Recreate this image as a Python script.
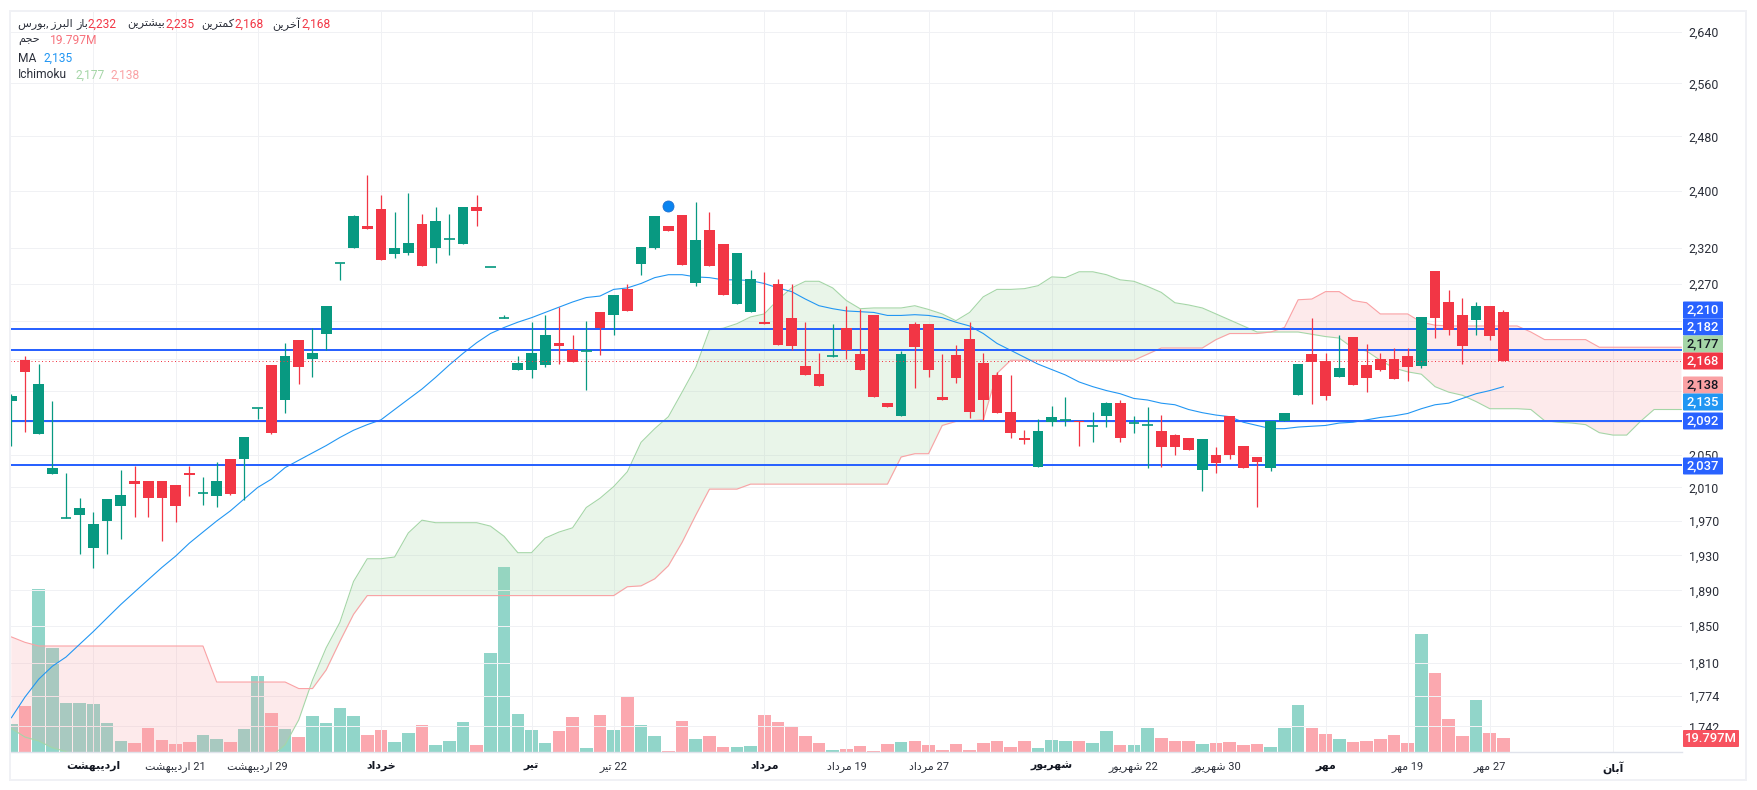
import numpy as np, pandas as pd, matplotlib
matplotlib.use("Agg")
import matplotlib.pyplot as plt, seaborn as sns
from matplotlib.patches import Rectangle, FancyBboxPatch
from matplotlib.ticker import FixedLocator, NullLocator, NullFormatter
from matplotlib.transforms import ScaledTranslation

opens = [2117,2169,2075,2026,1973,1977,1938,1970,1988,2018,2018,2018,2013,2027,2003,2000,2044,2044,2108,2163,2118,2196,2170,2204,2299,2320,2350,2375,2312,2313,2354,2320,2333,2326,2378,2294,2224,2156,2156,2163,2192,2182,2181,2232,2229,2263,2298,2320,2350,2366,2272,2345,2326,2243,2233,2219,2270,2225,2161,2151,2174,2211,2177,2228,2114,2098,2216,2217,2122,2176,2197,2165,2150,2103,2071,2035,2090,2093,2092,2085,2098,2114,2089,2087,2079,2074,2070,2031,2050,2098,2061,2047,2033,2092,2125,2177,2168,2147,2199,2163,2170,2171,2174,2162,2288,2246,2229,2222,2240,2232]
highs = [2126,2174,2164,2117,2027,1997,1981,1996,2031,2036,2018,2018,2013,2036,2023,2041,2045,2072,2108,2163,2192,2196,2211,2241,2299,2366,2424,2395,2371,2397,2368,2378,2368,2378,2395,2294,2228,2174,2219,2228,2239,2202,2220,2232,2256,2270,2321,2365,2350,2366,2385,2370,2326,2313,2290,2287,2277,2270,2219,2179,2217,2240,2236,2228,2114,2181,2219,2217,2177,2189,2219,2179,2154,2150,2080,2094,2111,2122,2092,2103,2116,2118,2098,2109,2099,2075,2070,2069,2059,2098,2061,2047,2092,2102,2164,2225,2178,2202,2199,2190,2179,2185,2185,2226,2288,2262,2252,2246,2241,2235]
lows = [2060,2078,2075,2026,1973,1932,1915,1932,1949,1975,1975,1947,1969,2000,1989,1987,2001,1995,2094,2075,2102,2138,2148,2182,2276,2320,2347,2303,2306,2310,2295,2299,2310,2326,2351,2294,2224,2156,2146,2160,2164,2167,2131,2176,2202,2234,2283,2318,2343,2296,2268,2295,2256,2243,2233,2216,2189,2183,2150,2136,2173,2170,2156,2122,2109,2098,2133,2147,2118,2140,2095,2093,2102,2071,2063,2035,2085,2085,2060,2065,2084,2065,2076,2033,2035,2049,2055,2006,2028,2044,2033,1987,2030,2092,2125,2113,2118,2147,2137,2128,2155,2145,2142,2159,2198,2202,2164,2202,2196,2168]
closes = [2123,2154,2138,2033,1973,1986,1966,1996,2001,2014,1997,1997,1988,2025,2003,2018,2002,2072,2108,2076,2174,2160,2178,2241,2299,2365,2347,2303,2320,2327,2295,2357,2333,2377,2372,2294,2225,2165,2178,2202,2187,2167,2181,2211,2256,2234,2321,2365,2343,2296,2331,2295,2256,2313,2277,2216,2189,2187,2150,2136,2174,2183,2156,2122,2109,2177,2186,2156,2118,2146,2103,2118,2102,2076,2068,2079,2097,2093,2090,2085,2114,2070,2089,2087,2059,2059,2055,2069,2040,2050,2033,2041,2092,2102,2164,2167,2123,2159,2137,2146,2157,2145,2160,2226,2224,2209,2187,2240,2201,2168]
volume_m = [39.6,65,230.5,147,69.3,69.3,67.9,41,15.6,12.7,33.9,17,11.3,14.1,24,18.4,14.1,32.5,107.5,55,32.5,21.2,51,41,62,51,24,31,14.1,26.9,38.2,9.9,15.6,42.4,9.9,140,261.6,53.7,31,12.7,29.7,49.5,5.7,52.3,31.1,79.2,38.2,22.6,1.4,43.8,18.4,22.6,7.1,7.1,8.5,52.3,42.4,36.8,22.6,12.7,2.8,4.2,8.5,1.4,11.3,14.1,15.6,9.9,2.8,11.3,2.8,12.7,15.6,7.1,15.6,5.7,17,15.6,15.6,12.7,29.7,9.9,9.9,33.9,19.8,15.6,15.6,11.3,12.7,14.1,9.9,11.3,7.1,33.9,66.5,33.9,25.5,18.4,14.1,15.6,18.4,24,12.7,166.9,111.7,46.7,22.6,73.5,26.9,19.797]
ma_line = [1751,1773,1792,1806,1816,1830,1844,1859,1874,1888,1902,1916,1929,1944,1957,1970,1982,1996,2010,2020,2034,2043,2052,2061,2071,2080,2087,2093,2106,2119,2132,2147,2163,2178,2192,2204,2212,2219,2225,2232,2239,2246,2252,2254,2263,2265,2271,2279,2283,2283,2280,2279,2276,2276,2275,2271,2265,2260,2250,2241,2237,2234,2233,2232,2228,2228,2229,2228,2225,2219,2214,2204,2191,2182,2173,2164,2157,2150,2141,2135,2130,2126,2120,2118,2114,2112,2106,2102,2099,2097,2090,2086,2082,2082,2084,2085,2086,2089,2090,2093,2096,2098,2101,2107,2112,2114,2120,2126,2130,2135]
span_a = [1740,1731,1727,1720,1716,1707,1703,1700,1698,1696,1695,1694,1694,1695,1696,1698,1700,1702,1705,1711,1723,1749,1791,1826,1854,1900,1926,1926,1928,1956,1971,1968,1968,1968,1968,1964,1952,1933,1933,1950,1957,1962,1986,1997,2011,2029,2065,2082,2097,2128,2160,2209,2211,2217,2226,2230,2249,2265,2274,2274,2265,2248,2237,2238,2238,2238,2241,2236,2230,2221,2232,2253,2263,2263,2264,2268,2280,2279,2287,2287,2283,2276,2274,2267,2259,2245,2242,2238,2230,2222,2214,2206,2206,2206,2206,2203,2200,2198,2185,2181,2169,2159,2154,2151,2135,2128,2124,2116,2107,2107,2107,2106,2092,2090,2089,2087,2077,2074,2074,2091,2106,2106,2106]
span_b = [1838,1832,1828,1828,1828,1828,1828,1828,1828,1828,1828,1828,1828,1828,1828,1789,1789,1789,1789,1789,1789,1782,1782,1802,1833,1863,1884,1884,1884,1884,1884,1884,1884,1884,1884,1884,1884,1884,1884,1884,1884,1884,1884,1884,1884,1894,1895,1903,1918,1945,1977,2008,2008,2008,2014,2014,2014,2014,2014,2014,2014,2014,2014,2014,2014,2047,2051,2051,2086,2091,2092,2093,2152,2169,2169,2169,2169,2169,2169,2169,2169,2169,2169,2177,2185,2185,2185,2185,2196,2204,2204,2204,2206,2212,2249,2250,2260,2260,2248,2245,2230,2230,2230,2219,2215,2214,2214,2214,2214,2214,2214,2206,2196,2196,2196,2196,2186,2186,2186,2186,2186,2186,2186]
price_ticks = [2640,2560,2480,2400,2320,2270,2220,2170,2130,2090,2050,2010,1970,1930,1890,1850,1810,1774,1742]
hidden_ticks = [2220,2170,2130,2090]
level_lines = [2210,2182,2092,2037]
last_close = 2168
event_idx, event_price = 48, 2379
time_idx = [6,12,18,27,38,44,55,61,67,76,82,88,96,102,108,117]
time_labels = ["اردیبهشت","21 اردیبهشت","29 اردیبهشت","خرداد","تیر","22 تیر","مرداد","19 مرداد","27 مرداد","شهریور","22 شهریور","30 شهریور","مهر","19 مهر","27 مهر","آبان"]
time_major = [True,False,False,True,True,False,True,False,False,True,False,False,True,False,False,True]

FORMS = {'ا':(0xFE8D,0xFE8E),'آ':(0xFE81,0xFE82),'د':(0xFEA9,0xFEAA),'ر':(0xFEAD,0xFEAE),'ز':(0xFEAF,0xFEB0),'و':(0xFEED,0xFEEE),
 'ب':(0xFE8F,0xFE90,0xFE91,0xFE92),'ت':(0xFE95,0xFE96,0xFE97,0xFE98),'ج':(0xFE9D,0xFE9E,0xFE9F,0xFEA0),'ح':(0xFEA1,0xFEA2,0xFEA3,0xFEA4),
 'خ':(0xFEA5,0xFEA6,0xFEA7,0xFEA8),'س':(0xFEB1,0xFEB2,0xFEB3,0xFEB4),'ش':(0xFEB5,0xFEB6,0xFEB7,0xFEB8),'ل':(0xFEDD,0xFEDE,0xFEDF,0xFEE0),
 'م':(0xFEE1,0xFEE2,0xFEE3,0xFEE4),'ن':(0xFEE5,0xFEE6,0xFEE7,0xFEE8),'ه':(0xFEE9,0xFEEA,0xFEEB,0xFEEC),'ک':(0xFB8E,0xFB8F,0xFB90,0xFB91),'ی':(0xFBFC,0xFBFD,0xFBFE,0xFBFF)}
def shape_word(w):
    out=[]
    for k,c in enumerate(w):
        if c not in FORMS: out.append(c); continue
        f=FORMS[c]
        prev=k>0 and w[k-1] in FORMS and len(FORMS[w[k-1]])==4
        nxt=k<len(w)-1 and w[k+1] in FORMS and len(f)==4
        if prev and nxt: g=f[3]
        elif prev: g=f[1]
        elif nxt: g=f[2]
        else: g=f[0]
        out.append(chr(g))
    return ''.join(reversed(out))
def fa(t):
    toks=t.split(' ')
    return ' '.join(shape_word(x) if any(c in FORMS for c in x) else x for x in reversed(toks))

sns.set_theme(style="white")
plt.rcParams['font.family']=['Roboto','DejaVu Sans']
W,H=1757,790
fig=plt.figure(figsize=(W/100,H/100),dpi=100,facecolor='white')
px=0.72
rect=[10/W,1-752/H,1672/W,742/H]
axv=fig.add_axes(rect,zorder=0); ax=fig.add_axes(rect,zorder=1,sharex=axv)
ax.patch.set_visible(False)
idx=np.arange(len(closes)); O,Hi,Lo,C=map(np.array,(opens,highs,lows,closes)); up=C>=O
UP,DN='#089981','#F23645'

vol=pd.DataFrame({'i':idx,'v':volume_m,'d':np.where(up,'u','d')})
sns.barplot(data=vol,x='i',y='v',hue='d',palette={'u':'#91D5C9','d':'#FBA8AF'},native_scale=True,dodge=False,
            width=0.92,saturation=1,linewidth=0,legend=False,ax=axv)
axv.set_ylim(0,1049); axv.axis('off')

ax.set_yscale('log')
cx=np.arange(len(span_a)); A=np.array(span_a,float); B=np.array(span_b,float)
ax.fill_between(cx,A,B,where=A>=B,interpolate=True,color='#A5D6A7',alpha=.24,lw=0,zorder=1)
ax.fill_between(cx,A,B,where=A<=B,interpolate=True,color='#FAA1A4',alpha=.22,lw=0,zorder=1)
sns.lineplot(x=cx,y=A,color='#A5D6A7',lw=1.0*px*1.1,ax=ax,zorder=2,estimator=None)
sns.lineplot(x=cx,y=B,color='#FAA1A4',lw=1.0*px*1.1,ax=ax,zorder=2,estimator=None)
sns.lineplot(x=idx,y=ma_line,color='#2196F3',lw=1.0*px*1.1,ax=ax,zorder=3,estimator=None)
for p in level_lines: ax.axhline(p,color='#2962FF',lw=2*px,zorder=4)
cols=np.where(up,UP,DN)
ax.vlines(idx,Lo,Hi,colors=cols,lw=1.25*px,zorder=5)
big=np.abs(C-O)>1.5
ax.bar(idx[big],np.abs(C-O)[big],bottom=np.minimum(O,C)[big],width=0.78,color=cols[big],lw=0,zorder=6)
ax.hlines(C[~big],idx[~big]-.39,idx[~big]+.39,colors=cols[~big],lw=1.7*px,zorder=6)
ax.axhline(last_close,color=DN,lw=1*px,ls=(0,(1,2.5)),zorder=7)
ax.plot([event_idx],[event_price],'o',ms=11*px,mfc='#0A84F0',mec='#1F6FD0',mew=.6,zorder=8)

ax.set_xlim(-0.095,122.04); ax.set_ylim(1715.6,2675)
ax.set_xlabel(''); ax.set_ylabel('')
ax.yaxis.tick_right()
ax.yaxis.set_major_locator(FixedLocator(price_ticks)); ax.yaxis.set_minor_locator(NullLocator()); ax.yaxis.set_minor_formatter(NullFormatter())
ax.set_yticklabels(['' if p in hidden_ticks else f'{p:,}' for p in price_ticks],fontsize=12.4*px,color='#2A2E39')
up1=ScaledTranslation(0,1.5/100,fig.dpi_scale_trans)
for l in ax.get_yticklabels(): l.set_transform(l.get_transform()+up1)
ax.set_xticks(time_idx); ax.set_xticklabels([fa(t) for t in time_labels],fontsize=11*px,color='#2A2E39')
for l,m in zip(ax.get_xticklabels(),time_major):
    if m: l.set_fontweight('bold'); l.set_color('#131722')
ax.tick_params(axis='y',length=0,pad=6.5*px); ax.tick_params(axis='x',length=0,pad=6.5)
ax.grid(True,color='#F0F1F4',lw=1*px); ax.set_axisbelow(True)
for s in ax.spines.values(): s.set_visible(False)
ax.spines['bottom'].set_visible(True); ax.spines['bottom'].set_color('#E0E3EB'); ax.spines['bottom'].set_linewidth(1.4*px)

def ptext(x,y,s,color='#131722',ha='left',size=12,weight='normal',z=6):
    fig.text(x/W,1-y/H,s,color=color,ha=ha,va='center',fontsize=size*px,fontweight=weight,zorder=z)
# price labels
def label(yc,s,bg,fg,x1=1723):
    fig.add_artist(FancyBboxPatch((1683/W,1-(yc+8.5)/H),(x1-1683)/W,17/H,boxstyle='round,pad=0,rounding_size=0.0008',fc=bg,ec='none',transform=fig.transFigure,zorder=5))
    ptext((1683+x1)/2,yc,s,fg,'center',13,'medium')
for yc,s,bg,fg in [(310,'2,210','#2962FF','white'),(327,'2,182','#2962FF','white'),(344,'2,177','#A5D6A7','#131722'),(361,'2,168','#F23645','white'),
                   (385,'2,138','#FAA1A4','#131722'),(402,'2,135','#2196F3','white'),(421,'2,092','#2962FF','white'),(466,'2,037','#2962FF','white')]:
    label(yc,s,bg,fg)
label(738.5,'19.797M','#F7525F','white',x1=1739)

# legend rows
R='#F23645'; D='#2A2E39'; FA=11.3
ptext(18,24,fa('البرز ,بورس'),D,size=FA)
for xr,s in [(88,'باز'),(164.5,'بیشترین'),(234.5,'کمترین'),(300.5,'آخرین')]:
    ptext(xr,24,fa(s),D,'right',FA)
for x,s in [(88,'2,232'),(165,'2,235'),(235,'2,168'),(301,'2,168')]:
    ptext(x,24,s,R)
ptext(18,41,fa('حجم'),D,size=FA); ptext(50,41,'19.797M','#F7727C')
ptext(18,58,'MA',D); ptext(44,58,'2,135','#2196F3')
ptext(18,75,'Ichimoku',D); ptext(75,75,'2,177','#A5D6A7'); ptext(111,75,'2,138','#FAA1A4')

fig.add_artist(Rectangle((9.5/W,1-779.5/H),1736/W,769/H,fill=False,ec='#F0F1F5',lw=2*px,transform=fig.transFigure,zorder=4))
fig.savefig('out.png',dpi=100)
